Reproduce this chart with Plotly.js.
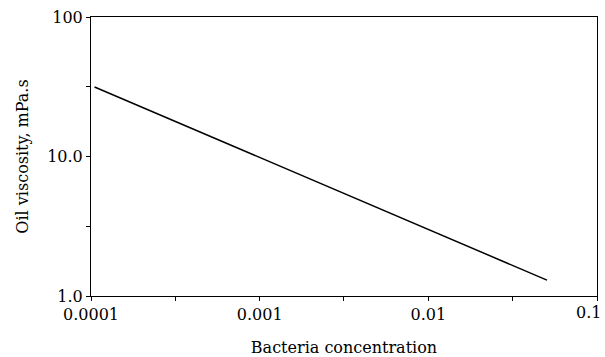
<!DOCTYPE html>
<html>
<head>
<meta charset="utf-8">
<script src="https://cdn.plot.ly/plotly-3.0.1.min.js"></script>
<style>html,body{margin:0;padding:0;background:#fff;}#chart{width:605px;height:357px;}</style>
</head>
<body>
<div id="chart"></div>
<script>
// Data
const bacteriaConc = [0.000105, 0.0505];
const oilViscosity = [31.5, 1.30];

// Axis ticks
const xTickVals = [0.0001, 0.000316, 0.001, 0.00316, 0.01, 0.0316, 0.1];
const xTickText = ['0.0001', '', '0.001', '', '0.01', '', ''];
const xLastTickLabel = '0.1';
const yTickVals = [1, 3.16, 10, 31.6, 100];
const yTickText = ['1.0', '', '10.0', '', '100'];

const font = {family: 'DejaVu Serif, Liberation Serif, serif', size: 16, color: '#000'};

const trace = {
  x: bacteriaConc,
  y: oilViscosity,
  mode: 'lines',
  type: 'scatter',
  line: {color: '#000', width: 1.5},
  hoverinfo: 'skip'
};

const layout = {
  width: 605,
  height: 357,
  margin: {l: 91, r: 8, t: 17, b: 61},
  paper_bgcolor: '#fff',
  plot_bgcolor: '#fff',
  showlegend: false,
  font: font,
  xaxis: {
    type: 'log',
    range: [-4, -1],
    tickvals: xTickVals,
    ticktext: xTickText,
    ticks: 'outside',
    ticklen: 4,
    tickwidth: 1,
    tickcolor: '#000',
    showgrid: false,
    zeroline: false,
    showline: true,
    linecolor: '#000',
    linewidth: 1,
    mirror: true,
    tickfont: font,
    title: {text: 'Bacteria concentration', font: font, standoff: 20}
  },
  yaxis: {
    type: 'log',
    range: [0, 2],
    tickvals: yTickVals,
    ticktext: yTickText,
    ticks: 'outside',
    ticklen: 4,
    tickwidth: 1,
    tickcolor: '#000',
    showgrid: false,
    zeroline: false,
    showline: true,
    linecolor: '#000',
    linewidth: 1,
    mirror: true,
    tickfont: font,
    title: {text: 'Oil viscosity, mPa.s', font: font, standoff: 14}
  },
  annotations: [{
    text: xLastTickLabel,
    xref: 'x', x: Math.log10(xTickVals[xTickVals.length - 1]),
    yref: 'paper', y: 0,
    xanchor: 'right', yanchor: 'top',
    xshift: 6, yshift: -5,
    showarrow: false,
    font: font
  }]
};

Plotly.newPlot('chart', [trace], layout, {staticPlot: true, displayModeBar: false});
</script>
</body>
</html>
